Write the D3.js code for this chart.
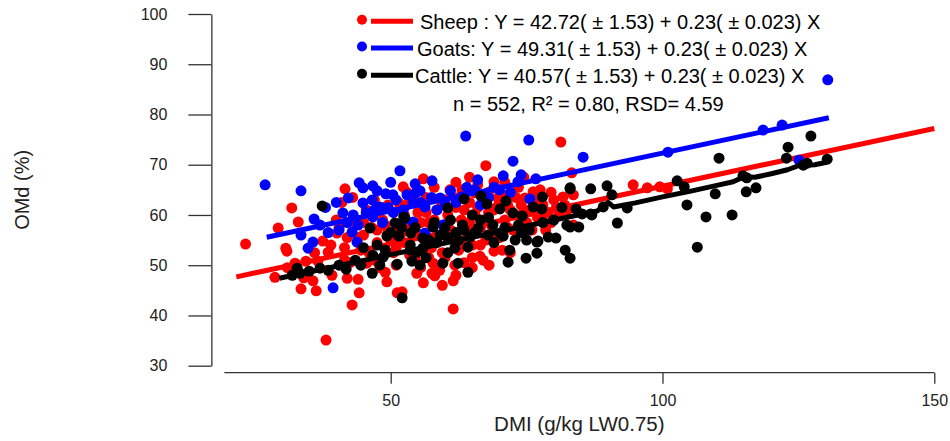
<!DOCTYPE html>
<html><head><meta charset="utf-8">
<script src="https://cdn.jsdelivr.net/npm/d3@7"></script>
<style>body{margin:0;background:#fff}svg{display:block;font-family:"Liberation Sans",Arial,sans-serif}</style>
</head><body><svg id="c" width="950" height="441"></svg>
<script>
// ---------- data ----------
const xTicks = [50, 100, 150];
const yTicks = [30, 40, 50, 60, 70, 80, 90, 100];
const xAxisStart = 19.4;
const speciesNames = ["Sheep", "Goats", "Cattle"];
const speciesColors = ["#ff0000", "#0000ff", "#000000"];
const intercepts = [42.72, 49.31, 40.57];
const slope = 0.23;
const lineXStart = [21.6, 27.2, 29.5];
const lineXEnd = [150, 130.6, 130.2];
const legendLabels = [
  "Sheep : Y = 42.72( \u00b1 1.53) + 0.23( \u00b1 0.023) X",
  "Goats: Y = 49.31( \u00b1 1.53) + 0.23( \u00b1 0.023) X",
  "Cattle: Y = 40.57( \u00b1 1.53) + 0.23( \u00b1 0.023) X"
];
const statsLabel = "n = 552, R\u00b2 = 0.80, RSD= 4.59";
const xTitle = "DMI (g/kg LW0.75)";
const yTitle = "OMd (%)";

const sheepX = [23.3,29.3,28.7,30.9,31.8,33.0,30.7,33.5,35.7,36.3,38.1,37.5,40.1,41.6,42.9,44.2,44.0,42.0,38.5,32.4,34.4,36.6,39.2,45.6,49.0,49.3,51.2,52.3,51.5,54.8,57.6,58.1,61.5,61.5,52.1,56.0,60.9,63.1,65.5,67.5,69.0,69.7,74.7,76.2,81.3,83.3,66.4,69.0,68.1,57.8,61.8,81.7,83.6,83.6,94.6,97.2,99.5,100.9,
 40.5,42.0,43.5,45.0,41.5,44.5,
 46.5,47.5,48.5,49.5,50.5,50.5,51.5,52.5,53.0,53.5,54.5,55.0,55.5,56.5,57.0,57.5,58.5,59.0,59.5,60.0,60.5,61.5,62.0,62.5,63.0,64.0,64.5,65.0,65.5,66.5,67.0,67.5,68.0,68.5,69.5,70.0,70.5,71.0,71.5,72.5,73.0,73.5,74.0,75.0,75.5,76.5,77.0,78.0,79.0,79.5,80.5,82.0,78.5,72.0,63.5,59.0,55.5,47.0,44.0,48.0,53.0,58.0,62.0,66.0,71.0,74.5,64.5,
 40.0,41.0,42.5,43.0,45.5,46.0,47.0,48.0,49.0,49.5,50.0,51.0,52.0,52.5,53.5,54.0,54.0,55.5,56.0,56.5,57.0,58.0,58.5,59.5,60.0,60.5,61.0,62.5,63.0,63.5,64.5,65.0,66.0,66.5,67.0,68.0,68.5,69.0,70.0,71.5,72.0,73.0,74.0,74.5,76.0,76.5,77.5,78.0,79.5,80.0,81.0,82.5,45.0,47.5,51.0,62.0,65.0,70.5,67.0,56.0,59.5,41.5,39.0,36.0,34.0,31.0];
const sheepY = [54.2,57.4,47.6,52.8,61.4,58.6,53.4,45.3,46.9,44.9,35.1,54.8,56.4,65.2,42.1,44.5,47.2,47.4,52.6,50.4,50.8,50.8,48.0,50.4,48.6,46.7,44.5,65.6,62.4,48.4,48.4,47.9,46.9,41.3,44.7,67.2,65.0,65.0,64.4,69.8,66.6,63.4,63.4,64.6,74.5,68.4,51.8,52.8,50.0,50.4,50.0,63.6,64.0,58.0,66.0,65.4,65.6,65.2,
 57.5,55.5,58.5,56.0,53.5,53.0,
 57.5,54.5,59.0,56.5,52.5,60.5,57.5,54.5,62.0,58.0,51.5,60.5,56.0,63.5,58.5,53.5,61.0,56.0,52.5,63.0,58.5,55.0,61.5,53.0,59.0,56.5,62.5,54.0,60.0,57.5,63.0,55.0,60.5,58.0,61.5,55.5,64.0,59.0,62.0,57.0,60.0,65.5,62.0,58.5,61.0,63.0,59.5,62.0,60.5,64.5,61.5,62.0,57.0,52.5,50.5,49.0,49.5,51.0,55.5,61.5,64.5,65.5,66.5,66.0,66.5,67.5,67.5,
 59.0,62.5,50.5,63.5,61.0,52.5,63.0,49.5,58.0,62.0,55.0,50.0,56.5,60.0,52.0,56.5,63.5,58.5,53.0,60.5,51.5,59.0,55.0,62.0,51.5,60.0,57.0,63.5,54.5,61.0,58.5,51.5,61.5,54.0,59.0,64.5,56.0,61.0,62.5,57.5,61.0,63.5,58.0,60.5,57.0,61.5,65.0,60.0,58.5,63.0,60.0,61.0,58.5,57.0,53.5,48.0,49.5,53.0,51.0,46.5,46.0,51.0,54.0,52.5,47.5,49.5];

const goatsX = [26.9,33.5,35.9,33.5,35.7,34.8,39.4,42.2,44.2,44.9,46.7,51.7,49.1,50.4,54.5,54.6,44.9,46.6,48.0,41.2,43.1,46.7,54.1,42.9,43.8,63.8,75.4,85.4,72.5,70.7,73.4,76.7,57.6,55.4,63.1,59.1,56.3,54.1,52.3,75.6,59.6,56.3,101.0,118.5,122.0,125.1,130.4,
 61.0,65.5,67.0,69.0,47.5,38.0,40.0,48.5,50.5,52.5,66.5,
 45.5,47.0,49.5,51.0,53.0,55.5,57.5,58.5,60.0,62.0,64.0,66.0,68.0,70.0,72.0,74.0,44.0,42.0,40.5,38.5,37.0,50.0];
const goatsY = [66.0,64.8,59.2,56.0,54.6,53.4,45.5,63.4,66.4,65.4,65.8,68.8,64.2,64.0,66.2,64.4,62.4,63.0,61.6,60.4,60.0,59.6,58.6,56.6,54.6,75.7,74.9,71.5,70.7,67.8,66.6,67.2,66.8,64.8,63.6,63.4,61.6,62.4,61.0,63.2,58.0,56.4,72.5,76.9,77.9,70.9,86.9,
 64.8,65.0,64.0,65.5,64.8,61.5,62.5,58.5,60.5,59.2,62.0,
 60.5,61.0,61.5,63.0,64.0,62.5,63.5,61.0,62.0,62.5,65.5,67.0,63.5,65.0,64.5,68.0,58.0,58.5,57.0,56.5,58.0,66.5];

const cattleX = [37.4,32.8,31.9,37.0,33.3,41.8,46.6,51.2,52.1,53.9,46.7,48.6,53.6,54.8,49.3,51.5,53.7,46.2,50.8,52.4,63.5,66.6,67.7,71.2,70.1,72.5,74.2,76.2,77.9,77.8,83.0,86.8,84.1,86.8,82.4,84.6,80.4,77.1,60.5,63.2,57.8,52.6,55.9,59.1,66.1,68.8,70.1,64.6,67.9,70.7,72.9,75.0,76.9,79.0,82.1,83.0,71.9,53.6,55.9,55.4,59.6,62.4,64.2,71.6,74.9,76.9,61.8,64.2,89.8,90.7,89.1,87.0,85.2,93.5,91.7,102.7,104.0,104.5,108.0,112.8,106.4,109.7,110.4,114.8,115.5,115.4,117.2,123.1,122.8,127.3,130.3,126.6,125.9,83.0,83.0,
 35.0,38.5,40.5,43.5,44.5,57.0,58.5,60.5,62.0,61.0,65.0,68.0,
 45.0,47.5,49.0,50.0,52.0,54.5,56.5,58.0,60.0,62.5,63.5,65.5,66.5,69.0,71.0,73.5,75.5,78.0,80.0,81.5,48.0,56.5,60.5,74.0];
const cattleY = [61.8,49.4,48.0,49.4,48.4,49.2,48.4,50.2,43.5,50.8,52.0,51.6,54.0,52.6,55.8,55.8,56.4,57.4,58.4,59.6,63.2,63.8,62.2,62.8,61.2,60.4,59.8,61.6,63.6,61.2,65.2,65.2,61.2,60.2,58.0,57.6,55.4,54.8,61.4,58.0,57.6,59.4,55.4,56.0,57.4,58.0,56.4,55.6,56.0,55.8,55.0,55.0,54.6,55.6,53.0,51.4,53.0,53.0,53.4,50.0,50.4,50.4,48.6,50.6,51.4,52.4,53.4,53.6,65.8,64.0,61.6,60.0,60.2,61.4,58.4,66.8,65.6,62.0,59.6,60.0,53.6,64.2,71.3,67.8,67.4,64.6,65.4,73.5,71.3,75.7,71.1,70.3,69.9,65.4,57.6,
 48.8,49.0,50.0,51.0,50.0,55.0,54.5,55.5,56.5,59.0,60.0,59.5,
 53.5,54.0,53.0,56.5,57.5,57.5,54.5,58.5,57.5,55.0,57.0,56.5,59.0,54.5,57.5,58.0,57.0,58.5,59.0,61.5,50.0,51.5,52.5,56.5];

const cattleLineX = [29.5,40,50,60,70,78,84,88,90,91,95,100,105,110,113,115,117,120,123,125,128,130.2];
const cattleLineY = [47.4,49.8,52.1,54.4,56.7,58.5,59.9,60.8,62.5,61.6,62.4,63.6,64.7,65.9,66.6,67.6,67.5,68.2,69.0,69.8,70.0,70.5];

// ---------- chart ----------
const svg = d3.select("#c");
const x = d3.scaleLinear().domain([50, 150]).range([390.7, 934.3]);
const y = d3.scaleLinear().domain([30, 100]).range([365.7, 14]);
const axisColor = "#333";

// y axis
const ya = svg.append("g").attr("transform", `translate(${x(xAxisStart) - 13},0)`)
  .call(d3.axisLeft(y).tickValues(yTicks).tickSize(23).tickSizeOuter(0).tickPadding(21));
ya.selectAll("path,line").attr("stroke", axisColor).attr("stroke-width", 1.3);
ya.selectAll("text").attr("font-size", 16).attr("fill", "#222").attr("font-family", "Liberation Sans, Arial, sans-serif");

// x axis
const xAxisY = 372.7;
const xa = svg.append("g").attr("transform", `translate(0,${xAxisY})`)
  .call(d3.axisBottom(x).tickValues(xTicks).tickSize(11).tickPadding(11).tickFormat(d3.format("d")));
xa.select(".domain").remove();
xa.append("line").attr("x1", x(xAxisStart)).attr("x2", x(150)).attr("y1", 0).attr("y2", 0);
xa.selectAll("line").attr("stroke", axisColor).attr("stroke-width", 1.3);
xa.selectAll("text").attr("font-size", 16).attr("fill", "#222").attr("font-family", "Liberation Sans, Arial, sans-serif");

// titles
svg.append("text").attr("x", (x(xAxisStart) + x(150)) / 2).attr("y", 431)
  .attr("text-anchor", "middle").attr("font-size", 20.5).attr("fill", "#222").text(xTitle);
svg.append("text").attr("transform", `translate(29,${y(65)}) rotate(-90)`)
  .attr("text-anchor", "middle").attr("font-size", 20).attr("fill", "#222").text(yTitle);

const series = [
  {xs: sheepX, ys: sheepY},
  {xs: goatsX, ys: goatsY},
  {xs: cattleX, ys: cattleY}
];
const line = d3.line().x(d => x(d[0])).y(d => y(d[1]));

series.forEach((s, i) => {
  const pts = s.xs.map((v, j) => [v, s.ys[j]]);
  svg.append("g").selectAll("circle").data(pts).join("circle")
    .attr("cx", d => x(d[0])).attr("cy", d => y(d[1])).attr("r", 5.5)
    .attr("fill", speciesColors[i]);
  let lp;
  if (i < 2) {
    lp = [lineXStart[i], lineXEnd[i]].map(v => [v, intercepts[i] + slope * v]);
  } else {
    lp = cattleLineX.map((v, j) => [v, cattleLineY[j]]);
  }
  svg.append("path").attr("d", line(lp)).attr("fill", "none")
    .attr("stroke", speciesColors[i]).attr("stroke-width", 5).attr("stroke-linejoin", "round");
});

// legend
const legendRowY = [29.3, 56, 83.3];
const legendTextX = [420, 417, 415];
legendLabels.forEach((lab, i) => {
  const g = svg.append("g");
  g.append("circle").attr("cx", 362).attr("cy", legendRowY[i] - 9.5).attr("r", 5).attr("fill", speciesColors[i]);
  g.append("line").attr("x1", 371).attr("x2", 413).attr("y1", legendRowY[i] - 8).attr("y2", legendRowY[i] - 8)
    .attr("stroke", speciesColors[i]).attr("stroke-width", 5);
  g.append("text").attr("x", legendTextX[i]).attr("y", legendRowY[i]).attr("font-size", 20).attr("fill", "#000").text(lab);
});
svg.append("text").attr("x", 453).attr("y", 110.5).attr("font-size", 20).attr("fill", "#000").text(statsLabel);
</script></body></html>
